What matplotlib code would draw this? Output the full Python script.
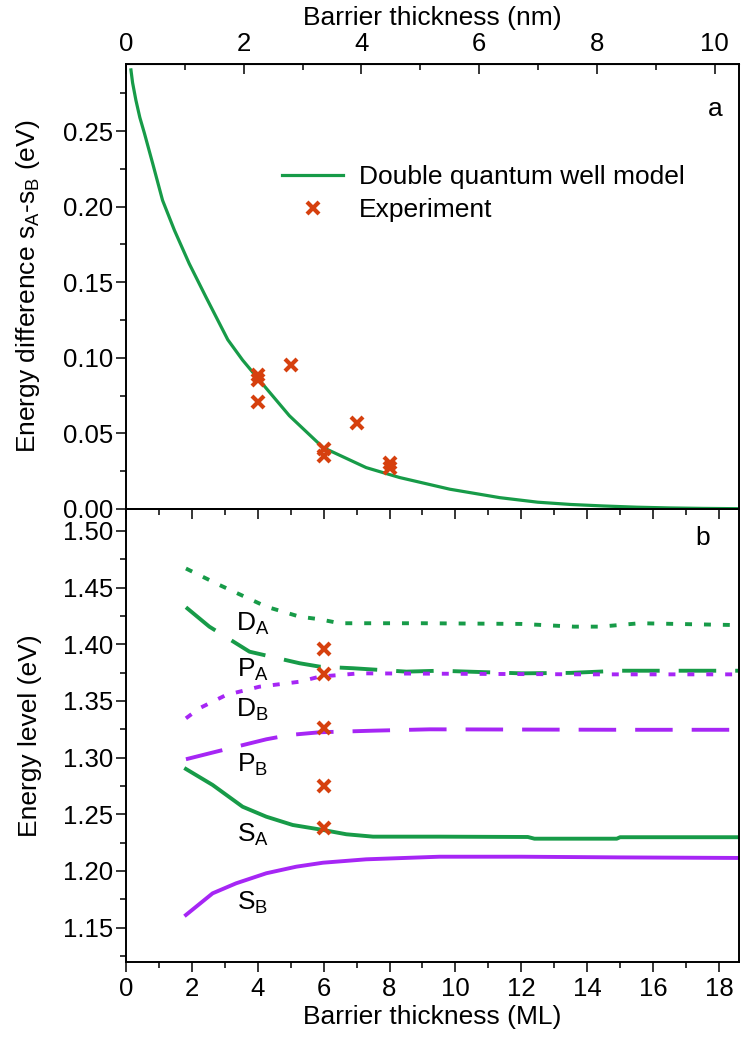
import matplotlib
matplotlib.use("Agg")
import matplotlib.pyplot as plt
from matplotlib.ticker import MultipleLocator
import numpy as np

plt.rcParams['font.family'] = ['Liberation Sans', 'DejaVu Sans']
plt.rcParams['mathtext.fontset'] = 'custom'
plt.rcParams['mathtext.rm'] = 'Liberation Sans'
plt.rcParams['lines.scale_dashes'] = False

GREEN = '#179b48'
PURPLE = '#a626f5'
ORANGE = '#d6400e'
ML_TO_NM = 0.5595

# ---- panel a data (x in ML) ----
diff_x = [0.15, 0.2, 0.3, 0.42, 0.56, 0.81, 1.11, 1.47, 1.92, 2.43, 3.09, 3.54, 4.0,
          4.96, 5.98, 7.29, 8.31, 9.83, 11.35, 12.5, 13.5, 14.5, 15.5, 16.5, 17.5, 18.6]
diff_y = [0.2905, 0.2820, 0.2705, 0.2590, 0.2485, 0.2286, 0.2042, 0.1844, 0.1623,
          0.1401, 0.1120, 0.0985, 0.0865, 0.0617, 0.0407, 0.0274, 0.0208, 0.0131,
          0.0075, 0.0045, 0.0030, 0.0020, 0.0012, 0.0007, 0.0004, 0.0002]
exp_a_x = [4, 4, 4, 5, 6, 6, 7, 8, 8]
exp_a_y = [0.0889, 0.0853, 0.0705, 0.0955, 0.0396, 0.0351, 0.0568, 0.0307, 0.0274]

# ---- panel b data (x in ML) ----
DA_x = [1.82, 2.84, 4.26, 5.27, 5.88, 6.49, 9.0, 12.0, 13.6, 14.4, 15.6, 18.5]
DA_y = [1.4669, 1.4523, 1.4332, 1.4244, 1.4221, 1.4186, 1.4186, 1.4180, 1.4156, 1.4156, 1.4186, 1.4170]
PA_x = [1.82, 2.53, 3.75, 5.27, 5.88, 6.89, 8.51, 9.52, 12.0, 13.5, 15.0, 18.6]
PA_y = [1.4327, 1.4156, 1.3935, 1.3833, 1.3803, 1.3789, 1.3759, 1.3767, 1.3744, 1.3748, 1.3767, 1.3767]
DB_x = [1.82, 2.23, 3.04, 4.05, 5.27, 5.88, 7.09, 10.0, 14.0, 18.6]
DB_y = [1.3347, 1.3436, 1.3553, 1.3626, 1.3670, 1.3715, 1.3744, 1.3740, 1.3735, 1.3735]
PB_x = [1.82, 2.74, 4.26, 4.96, 5.88, 7.50, 9.22, 12.0, 15.0, 18.6]
PB_y = [1.2986, 1.3053, 1.3162, 1.3200, 1.3224, 1.3238, 1.3250, 1.3248, 1.3246, 1.3246]
SA_x = [1.82, 2.63, 3.54, 4.26, 5.06, 5.98, 6.69, 7.50, 9.52, 12.2, 12.4, 14.9, 15.0, 18.6]
SA_y = [1.2900, 1.2759, 1.2567, 1.2479, 1.2406, 1.2362, 1.2324, 1.2303, 1.2303, 1.2300, 1.2285, 1.2285, 1.2298, 1.2298]
SB_x = [1.82, 2.63, 3.34, 4.26, 5.17, 5.98, 7.29, 9.52, 12.0, 15.0, 18.6]
SB_y = [1.1612, 1.1803, 1.1891, 1.1980, 1.2038, 1.2073, 1.2103, 1.2126, 1.2126, 1.2120, 1.2115]
exp_b_x = [6, 6, 6, 6, 6]
exp_b_y = [1.3956, 1.3738, 1.3259, 1.2750, 1.2377]

state_labels = ['D$_\\mathregular{A}$', 'P$_\\mathregular{A}$', 'D$_\\mathregular{B}$',
                'P$_\\mathregular{B}$', 'S$_\\mathregular{A}$', 'S$_\\mathregular{B}$']
label_x = [3.85, 3.85, 3.85, 3.85, 3.85, 3.85]
label_y = [1.418, 1.378, 1.342, 1.294, 1.232, 1.172]

nm_ticks = [0, 2, 4, 6, 8, 10]

W, H = 742, 1041
fig = plt.figure(figsize=(W / 100, H / 100), dpi=100)
L, R = 126 / W, 739 / W
ax1 = fig.add_axes([L, 1 - 509 / H, R - L, (509 - 64) / H])
ax2 = fig.add_axes([L, 1 - 962 / H, R - L, (962 - 509) / H])
ax2.set_facecolor('none')
ax1.set_zorder(3)
ax1.set_facecolor('none')

XMAX = 18.61
FS_T = 18.5
FS_L = 19

for ax in (ax1, ax2):
    ax.set_xlim(0, XMAX)
    for s in ax.spines.values():
        s.set_linewidth(1.4)
    ax.xaxis.set_major_locator(MultipleLocator(2))
    ax.xaxis.set_minor_locator(MultipleLocator(1))
    ax.yaxis.set_major_locator(MultipleLocator(0.05))
    ax.yaxis.set_minor_locator(MultipleLocator(0.025))
    ax.tick_params(axis='y', which='both', direction='out', left=True, right=False,
                   labelsize=FS_T, width=1.1)
    ax.tick_params(axis='y', which='major', length=7, pad=2)
    ax.tick_params(axis='y', which='minor', length=4)

# ---- panel a ----
ax1.set_ylim(0, 0.2944)
ax1.plot(diff_x, diff_y, color=GREEN, lw=2.3, label='Double quantum well model')
ax1.plot(exp_a_x, exp_a_y, ls='none', marker='x', ms=8, mew=3, color=ORANGE,
         label='Experiment')
ax1.tick_params(axis='x', which='both', direction='out', bottom=True, top=False,
                labelbottom=False, width=1.1)
ax1.tick_params(axis='x', which='major', length=7)
ax1.tick_params(axis='x', which='minor', length=4)
ax1.set_yticks([0.0, 0.05, 0.10, 0.15, 0.20, 0.25])
ax1.set_yticklabels(['0.00', '0.05', '0.10', '0.15', '0.20', '0.25'])
ax1.set_ylabel('Energy difference s$_\\mathregular{A}$-s$_\\mathregular{B}$ (eV)',
               fontsize=FS_L, labelpad=15)

sec = ax1.secondary_xaxis('top', functions=(lambda x: x * ML_TO_NM, lambda x: x / ML_TO_NM))
sec.set_xticks(nm_ticks)
sec.set_xticklabels([str(t) for t in nm_ticks])
sec.xaxis.set_minor_locator(MultipleLocator(1))
sec.tick_params(axis='x', which='both', direction='in', labelsize=FS_T, width=1.1)
sec.tick_params(axis='x', which='major', length=7, pad=6)
sec.tick_params(axis='x', which='minor', length=4)
sec.set_xlabel('Barrier thickness (nm)', fontsize=FS_L, labelpad=5)

leg = ax1.legend(loc='upper left', bbox_to_anchor=(0.255, 0.773), frameon=False,
                 fontsize=FS_L, handlelength=2.3, handletextpad=0.6,
                 labelspacing=0.35, borderpad=0, borderaxespad=0)
ax1.text(0.962, 0.90, 'a', transform=ax1.transAxes, fontsize=FS_L,
         ha='center', va='center')

# ---- panel b ----
ax2.set_ylim(1.1197, 1.5194)
dot = (5, 8.6)
longd = (27, 13.7)
ax2.plot(DA_x, DA_y, color=GREEN, lw=2.8, dashes=dot)
ax2.plot(PA_x, PA_y, color=GREEN, lw=2.8, dashes=longd)
ax2.plot(DB_x, DB_y, color=PURPLE, lw=2.8, dashes=dot)
ax2.plot(PB_x, PB_y, color=PURPLE, lw=2.8, dashes=longd)
ax2.plot(SA_x, SA_y, color=GREEN, lw=2.8)
ax2.plot(SB_x, SB_y, color=PURPLE, lw=2.8)
ax2.plot(exp_b_x, exp_b_y, ls='none', marker='x', ms=8, mew=3, color=ORANGE, zorder=5)
for t, x, y in zip(state_labels, label_x, label_y):
    ax2.text(x, y, t, fontsize=FS_L, ha='center', va='center')
ax2.text(0.94, 0.935, 'b', transform=ax2.transAxes, fontsize=FS_L,
         ha='center', va='center')

ax2.tick_params(axis='x', which='both', direction='out', bottom=True, top=False,
                labelsize=FS_T, width=1.1)
ax2.tick_params(axis='x', which='major', length=7, pad=4)
ax2.tick_params(axis='x', which='minor', length=4)
ax2.set_yticks([1.15, 1.20, 1.25, 1.30, 1.35, 1.40, 1.45, 1.50])
ax2.set_yticklabels(['1.15', '1.20', '1.25', '1.30', '1.35', '1.40', '1.45', '1.50'])
ax2.set_ylabel('Energy level (eV)', fontsize=FS_L, labelpad=15)
ax2.set_xlabel('Barrier thickness (ML)', fontsize=FS_L, labelpad=3)

fig.savefig('out.png', dpi=100)
